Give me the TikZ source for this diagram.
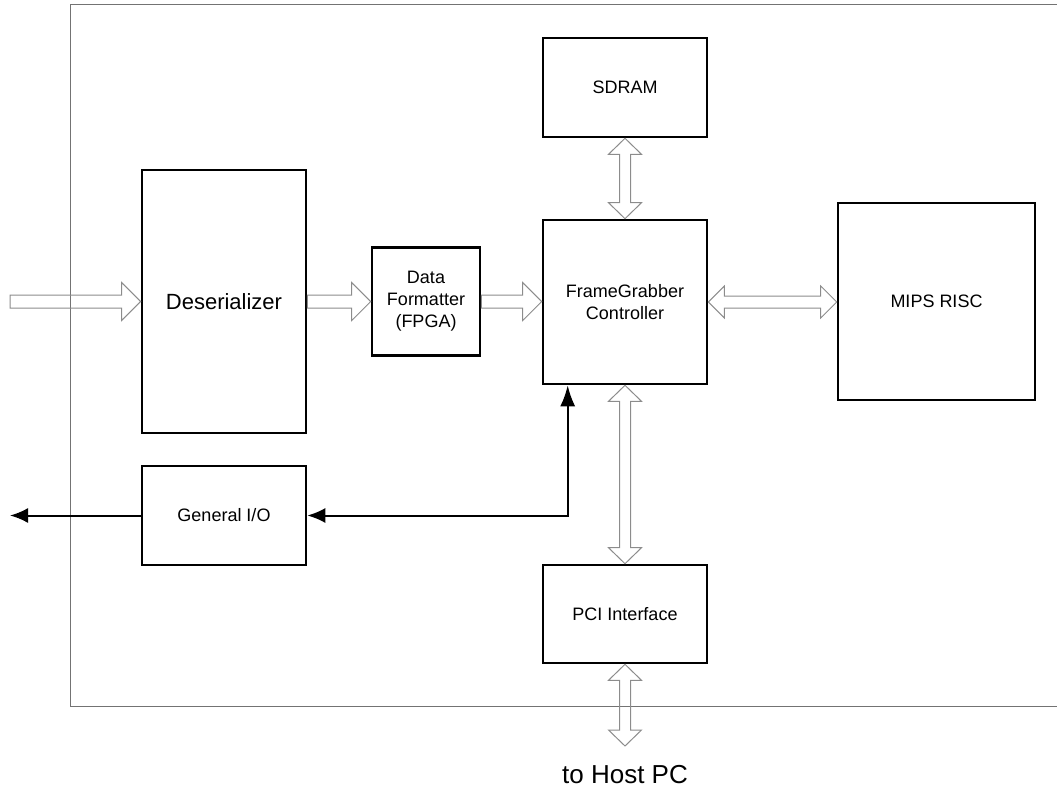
\documentclass[tikz,border=0pt]{standalone}
\usepackage{fontspec}
\setmainfont{Liberation Sans}
\usetikzlibrary{calc,arrows.meta}

\tikzset{
  blk/.style={draw, line width=2.6pt, inner sep=0pt, align=center,
              font=\fontsize{18}{22}\selectfont},
  hollow/.style={draw=black!45, line width=1pt, line join=miter},
  wire/.style={line width=2pt},
  frame/.style={draw=black!55, line width=1pt}
}

% hollow single arrow, horizontal, pointing from #1 to #2 (rightwards)
\newcommand\hollowR[2]{%
  \draw[hollow] ($(#1)+(0,-6.5)$) -- ($(#2)+(-19,-6.5)$) -- ($(#2)+(-19,-19)$) -- (#2)
    -- ($(#2)+(-19,19)$) -- ($(#2)+(-19,6.5)$) -- ($(#1)+(0,6.5)$) -- cycle;}
% hollow double arrow, horizontal, #1 left end, #2 right end
\newcommand\hollowLR[2]{%
  \draw[hollow] (#1) -- ($(#1)+(16,-16)$) -- ($(#1)+(16,-6)$) -- ($(#2)+(-16,-6)$)
    -- ($(#2)+(-16,-16)$) -- (#2) -- ($(#2)+(-16,16)$) -- ($(#2)+(-16,6)$)
    -- ($(#1)+(16,6)$) -- ($(#1)+(16,16)$) -- cycle;}
% hollow double arrow, vertical, #1 top end, #2 bottom end
\newcommand\hollowUD[2]{%
  \draw[hollow] (#1) -- ($(#1)+(16.5,16)$) -- ($(#1)+(5.5,16)$) -- ($(#2)+(5.5,-16)$)
    -- ($(#2)+(16.5,-16)$) -- (#2) -- ($(#2)+(-16.5,-16)$) -- ($(#2)+(-5.5,-16)$)
    -- ($(#1)+(-5.5,16)$) -- ($(#1)+(-16.5,16)$) -- cycle;}

\begin{document}
\begin{tikzpicture}[x=1pt,y=-1pt]
  \useasboundingbox (0,0) rectangle (1057,789);

  % board outline
  \draw[frame] (1057,5) -- (70,5) -- (70,706) -- (1057,706);

  % blocks
  \node[blk, minimum width=164, minimum height=263,
        font=\fontsize{22}{26}\selectfont] (des) at (224,301.5) {Deserializer};
  \node[blk, minimum width=108, minimum height=108] (fmt) at (426,301.5)
        {Data\\Formatter\\(FPGA)};
  \node[blk, minimum width=164, minimum height=164] (fg) at (625,302)
        {FrameGrabber\\Controller};
  \node[blk, minimum width=164, minimum height=99] (sdram) at (625,87.5) {SDRAM};
  \node[blk, minimum width=197, minimum height=197] (mips) at (936.5,301.5) {MIPS RISC};
  \node[blk, minimum width=164, minimum height=99] (gio) at (224,515.5) {General I/O};
  \node[blk, minimum width=164, minimum height=98] (pci) at (625,614) {PCI Interface};
  \node[font=\fontsize{26}{30}\selectfont] (host) at (625,775) {to Host PC};

  % free ends
  \coordinate (src) at (10,301.5);
  \coordinate (pcout) at (625,746);
  \coordinate (ioout) at (10,515.5);
  \coordinate (fgtap) at ($(fg.south west)+(26,0)$);

  % data paths
  \hollowR{src}{des.west |- src}
  \hollowR{des.east}{fmt.west |- des.east}
  \hollowR{fmt.east}{fg.west |- fmt.east}
  \hollowLR{fg.east}{mips.west |- fg.east}
  \hollowUD{sdram.south}{fg.north}
  \hollowUD{fg.south}{pci.north}
  \hollowUD{pci.south}{pcout}

  % control lines
  \draw[wire, {Latex[length=18pt,width=15pt]}-{Latex[length=21pt,width=15pt]}]
    (gio.east) -- (gio.east -| fgtap) -- (fgtap);
  \draw[wire, -{Latex[length=18pt,width=15pt]}] (gio.west) -- (ioout);
\end{tikzpicture}
\end{document}
